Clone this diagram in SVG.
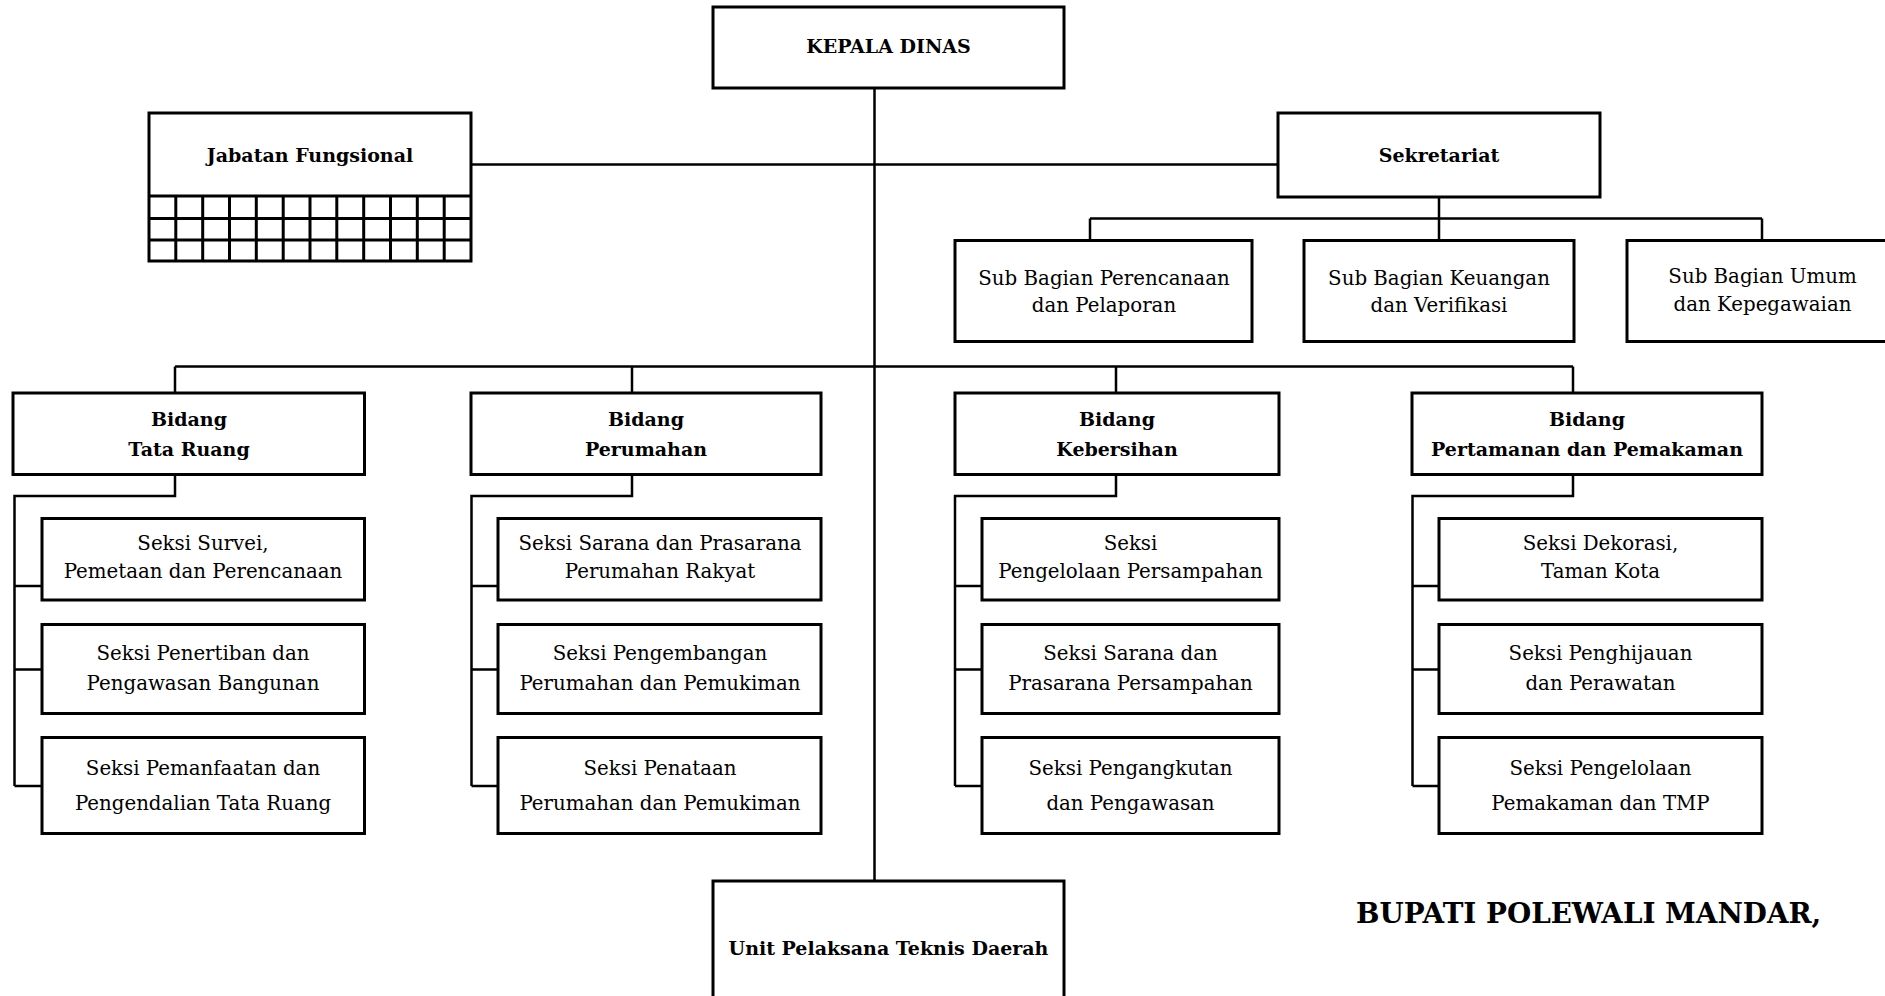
<svg xmlns="http://www.w3.org/2000/svg" width="1885" height="996" viewBox="0 0 1885 996">
<style>
.box{fill:#fff;stroke:#000;stroke-width:3}
.ln{fill:none;stroke:#000;stroke-width:2.5}
.grid{fill:none;stroke:#000;stroke-width:3}
text{font-family:"DejaVu Serif","Liberation Serif",serif;fill:#000;text-anchor:middle}
.r{font-size:19.8px}
.b{font-size:19px;font-weight:bold}
.big{font-size:27.8px;font-weight:bold;text-anchor:start}
</style>
<rect width="1885" height="996" fill="#fff"/>
<g id="connectors">
<path class="ln" d="M874.5 88 V881"/>
<path class="ln" d="M471 164.5 H1278"/>
<path class="ln" d="M1439 197 V218.5 M1090 218.5 H1762 M1090 218.5 V240 M1439 218.5 V240 M1762 218.5 V240"/>
<path class="ln" d="M175 366.5 H1573 M175 366.5 V393 M632 366.5 V393 M1116 366.5 V393 M1573 366.5 V393"/>
<path class="ln" d="M175 474.5 V496 H14.5 V786 M14.5 586 H42 M14.5 669.5 H42 M14.5 786 H42"/>
<path class="ln" d="M632 474.5 V496 H471.5 V786 M471.5 586 H498 M471.5 669.5 H498 M471.5 786 H498"/>
<path class="ln" d="M1116 474.5 V496 H955 V786 M955 586 H982 M955 669.5 H982 M955 786 H982"/>
<path class="ln" d="M1573 474.5 V496 H1412.5 V786 M1412.5 586 H1439 M1412.5 669.5 H1439 M1412.5 786 H1439"/>
</g>
<g id="kepala"><rect class="box" x="713" y="7" width="351" height="81"/><text class="b" x="888.5" y="53">KEPALA DINAS</text></g>
<g id="jabatan">
<rect class="box" x="149" y="113" width="322" height="148"/>
<path class="grid" d="M149 196 H471 M149 218.5 H471 M149 240 H471 M175.8 196 V261 M202.7 196 V261 M229.5 196 V261 M256.3 196 V261 M283.2 196 V261 M310 196 V261 M336.8 196 V261 M363.7 196 V261 M390.5 196 V261 M417.3 196 V261 M444.2 196 V261"/>
<text class="b" x="310" y="162">Jabatan Fungsional</text>
</g>
<g id="sekretariat"><rect class="box" x="1278" y="113" width="322" height="84"/><text class="b" x="1439" y="162">Sekretariat</text></g>
<g id="sub1"><rect class="box" x="955" y="240.5" width="297" height="101"/><text class="r" x="1104" y="285">Sub Bagian Perencanaan</text><text class="r" x="1104" y="312">dan Pelaporan</text></g>
<g id="sub2"><rect class="box" x="1304" y="240.5" width="270" height="101"/><text class="r" x="1439" y="285">Sub Bagian Keuangan</text><text class="r" x="1439" y="312">dan Verifikasi</text></g>
<g id="sub3"><rect class="box" x="1627" y="240.5" width="280" height="101"/><text class="r" x="1762.5" y="283">Sub Bagian Umum</text><text class="r" x="1762.5" y="311">dan Kepegawaian</text></g>
<g id="bidang-tata-ruang"><rect class="box" x="13" y="393" width="351.5" height="81.5"/><text class="b" x="189" y="426">Bidang</text><text class="b" x="189" y="456">Tata Ruang</text></g>
<g id="bidang-perumahan"><rect class="box" x="471" y="393" width="350" height="81.5"/><text class="b" x="646" y="426">Bidang</text><text class="b" x="646" y="456">Perumahan</text></g>
<g id="bidang-kebersihan"><rect class="box" x="955" y="393" width="324" height="81.5"/><text class="b" x="1117" y="426">Bidang</text><text class="b" x="1117" y="456">Kebersihan</text></g>
<g id="bidang-pertamanan"><rect class="box" x="1412" y="393" width="350" height="81.5"/><text class="b" x="1587" y="426">Bidang</text><text class="b" x="1587" y="456">Pertamanan dan Pemakaman</text></g>
<g id="seksi-tr1"><rect class="box" x="42" y="518.5" width="322.5" height="81.5"/><text class="r" x="203" y="549.5">Seksi Survei,</text><text class="r" x="203" y="577.5">Pemetaan dan Perencanaan</text></g>
<g id="seksi-tr2"><rect class="box" x="42" y="624.5" width="322.5" height="89"/><text class="r" x="203" y="660">Seksi Penertiban dan</text><text class="r" x="203" y="690">Pengawasan Bangunan</text></g>
<g id="seksi-tr3"><rect class="box" x="42" y="737.5" width="322.5" height="96"/><text class="r" x="203" y="775">Seksi Pemanfaatan dan</text><text class="r" x="203" y="810">Pengendalian Tata Ruang</text></g>
<g id="seksi-pr1"><rect class="box" x="498" y="518.5" width="323" height="81.5"/><text class="r" x="660" y="549.5">Seksi Sarana dan Prasarana</text><text class="r" x="660" y="577.5">Perumahan Rakyat</text></g>
<g id="seksi-pr2"><rect class="box" x="498" y="624.5" width="323" height="89"/><text class="r" x="660" y="660">Seksi Pengembangan</text><text class="r" x="660" y="690">Perumahan dan Pemukiman</text></g>
<g id="seksi-pr3"><rect class="box" x="498" y="737.5" width="323" height="96"/><text class="r" x="660" y="775">Seksi Penataan</text><text class="r" x="660" y="810">Perumahan dan Pemukiman</text></g>
<g id="seksi-kb1"><rect class="box" x="982" y="518.5" width="297" height="81.5"/><text class="r" x="1130.5" y="549.5">Seksi</text><text class="r" x="1130.5" y="577.5">Pengelolaan Persampahan</text></g>
<g id="seksi-kb2"><rect class="box" x="982" y="624.5" width="297" height="89"/><text class="r" x="1130.5" y="660">Seksi Sarana dan</text><text class="r" x="1130.5" y="690">Prasarana Persampahan</text></g>
<g id="seksi-kb3"><rect class="box" x="982" y="737.5" width="297" height="96"/><text class="r" x="1130.5" y="775">Seksi Pengangkutan</text><text class="r" x="1130.5" y="810">dan Pengawasan</text></g>
<g id="seksi-pp1"><rect class="box" x="1439" y="518.5" width="323" height="81.5"/><text class="r" x="1600.5" y="549.5">Seksi Dekorasi,</text><text class="r" x="1600.5" y="577.5">Taman Kota</text></g>
<g id="seksi-pp2"><rect class="box" x="1439" y="624.5" width="323" height="89"/><text class="r" x="1600.5" y="660">Seksi Penghijauan</text><text class="r" x="1600.5" y="690">dan Perawatan</text></g>
<g id="seksi-pp3"><rect class="box" x="1439" y="737.5" width="323" height="96"/><text class="r" x="1600.5" y="775">Seksi Pengelolaan</text><text class="r" x="1600.5" y="810">Pemakaman dan TMP</text></g>
<g id="uptd"><rect class="box" x="713" y="881" width="351" height="130"/><text class="b" x="888.5" y="955">Unit Pelaksana Teknis Daerah</text></g>
<g id="signature"><text class="big" x="1356" y="923">BUPATI POLEWALI MANDAR,</text></g>
</svg>
